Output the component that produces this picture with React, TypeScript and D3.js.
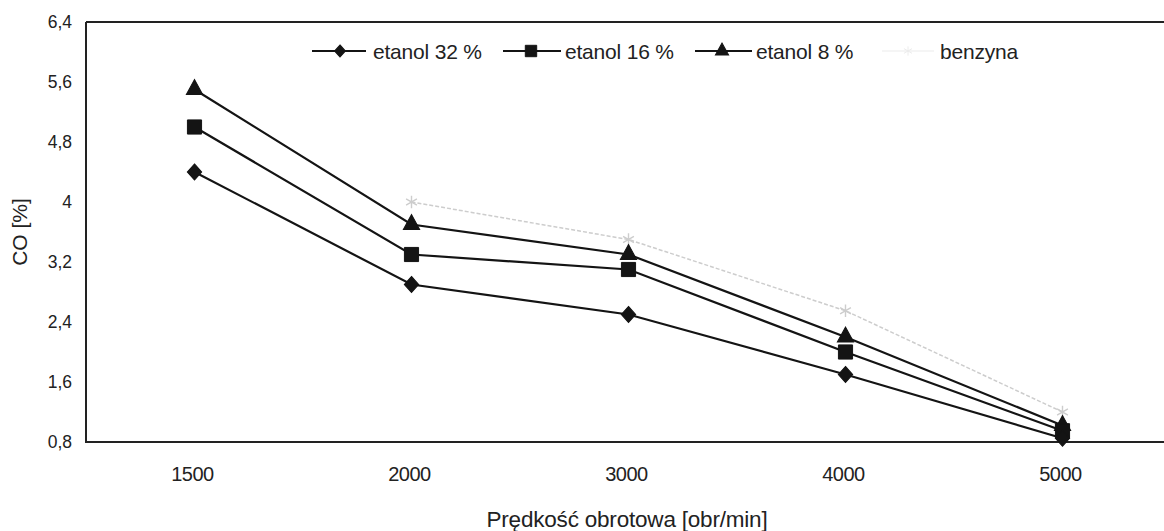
import React from "react";
import * as d3 from "d3";

// Engine speed categories [obr/min]
const speeds = ["1500", "2000", "3000", "4000", "5000"];

// CO emission [%] for each fuel
const etanol32 = [4.4, 2.9, 2.5, 1.7, 0.85];
const etanol16 = [5.0, 3.3, 3.1, 2.0, 0.95];
const etanol8 = [5.5, 3.7, 3.3, 2.2, 1.02];
const benzyna: (number | null)[] = [null, 4.0, 3.5, 2.55, 1.2];

const yTicks = [0.8, 1.6, 2.4, 3.2, 4, 4.8, 5.6, 6.4];

const seriesNames = ["etanol 32 %", "etanol 16 %", "etanol 8 %", "benzyna"];

const W = 1164;
const H = 531;
const left = 86;
const right = 1171;
const top = 22;
const bottom = 442;

const x = d3.scaleBand<string>().domain(speeds).range([left, right]);
const y = d3.scaleLinear().domain([0.8, 6.4]).range([bottom, top]);

const fmt = (v: number) => String(v).replace(".", ",");

type Series = {
  name: string;
  values: (number | null)[];
  symbol: d3.SymbolType;
  size: number;
  legendSize: number;
  sy: number;
  color: string;
  width: number;
  fill: boolean;
};

const series: Series[] = [
  { name: seriesNames[0], values: etanol32, symbol: d3.symbolDiamond2, size: 130, legendSize: 75, sy: 1.12, color: "#141414", width: 2.2, fill: true },
  { name: seriesNames[1], values: etanol16, symbol: d3.symbolSquare, size: 200, legendSize: 130, sy: 1, color: "#141414", width: 2.2, fill: true },
  { name: seriesNames[2], values: etanol8, symbol: d3.symbolTriangle, size: 115, legendSize: 75, sy: 1.05, color: "#141414", width: 2.2, fill: true },
  { name: seriesNames[3], values: benzyna, symbol: d3.symbolAsterisk, size: 110, legendSize: 60, sy: 1, color: "#cdcdcd", width: 1.5, fill: false },
];

const font = "'Liberation Sans', Arial, sans-serif";

export default function App() {
  const cx = (s: string) => (x(s) ?? 0) + x.bandwidth() / 2;
  const line = d3
    .line<number | null>()
    .defined((d) => d !== null)
    .x((_, i) => cx(speeds[i]))
    .y((d) => y(d as number));

  const legendY = 51;
  const legendItems = [
    { lx: 312, mx: 340, len: 54, tx: 373 },
    { lx: 503, mx: 531, len: 58, tx: 565 },
    { lx: 695, mx: 722, len: 57, tx: 756 },
    { lx: 882, mx: 908, len: 52, tx: 940 },
  ];

  return (
    <svg width={W} height={H} style={{ position: "absolute", left: 0, top: 0, background: "#fff" }}>
      {/* frame */}
      <line x1={left} x2={W} y1={top} y2={top} stroke="#222" strokeWidth={2} />
      <line x1={left} x2={left} y1={top} y2={bottom} stroke="#222" strokeWidth={2} />
      <line x1={left - 1} x2={W} y1={bottom} y2={bottom} stroke="#222" strokeWidth={2} />

      {/* y tick labels */}
      {yTicks.map((t) => (
        <text key={t} x={72} y={y(t) + 6} textAnchor="end" fontFamily={font} fontSize={17.5} fill="#222">
          {fmt(t)}
        </text>
      ))}
      {/* x tick labels */}
      {speeds.map((s) => (
        <text key={s} x={cx(s) - 2} y={481} textAnchor="middle" fontFamily={font} fontSize={20} fill="#222" letterSpacing={-0.5}>
          {s}
        </text>
      ))}
      <text x={627} y={527} textAnchor="middle" fontFamily={font} fontSize={22.5} fill="#222" letterSpacing={-0.2}>
        Prędkość obrotowa [obr/min]
      </text>
      <text
        transform={`translate(27,232) rotate(-90)`}
        textAnchor="middle"
        fontFamily={font}
        fontSize={21}
        fill="#222"
      >
        CO [%]
      </text>

      {/* series */}
      {series
        .slice()
        .reverse()
        .map((s) => (
          <g key={s.name}>
            <path
              d={line(s.values) ?? ""}
              fill="none"
              stroke={s.color}
              strokeWidth={s.width}
              strokeDasharray={s.fill ? undefined : "4 2"}
            />
            {s.values.map((v, i) =>
              v === null ? null : (
                <path
                  key={i}
                  transform={`translate(${cx(speeds[i])},${y(v)}) scale(1,${s.sy})`}
                  d={d3.symbol(s.symbol, s.size)() ?? ""}
                  fill={s.fill ? s.color : "none"}
                  stroke={s.color}
                  strokeWidth={s.fill ? 1 : 1.4}
                />
              )
            )}
          </g>
        ))}

      {/* legend */}
      {series.map((s, i) => {
        const it = legendItems[i];
        return (
          <g key={s.name}>
            <line
              x1={it.lx}
              x2={it.lx + it.len}
              y1={legendY}
              y2={legendY}
              stroke={s.fill ? s.color : "#ececec"}
              strokeWidth={s.fill ? 1.8 : 1.2}
            />
            <path
              transform={`translate(${it.mx},${legendY}) scale(1,${s.sy})`}
              d={d3.symbol(s.symbol, s.legendSize)() ?? ""}
              fill={s.fill ? s.color : "none"}
              stroke={s.fill ? s.color : "#ececec"}
              strokeWidth={1}
            />
            <text x={it.tx} y={legendY + 7.5} fontFamily={font} fontSize={21} fill="#222" letterSpacing={-0.2}>
              {s.name}
            </text>
          </g>
        );
      })}
    </svg>
  );
}
